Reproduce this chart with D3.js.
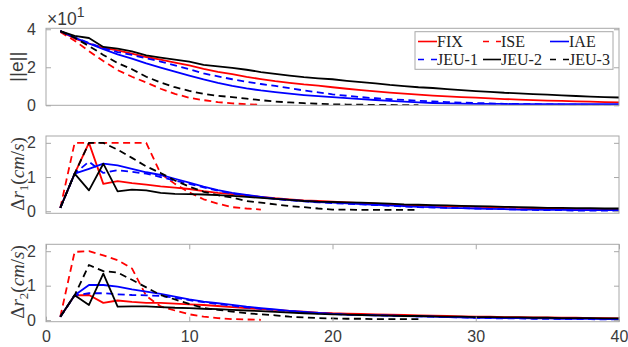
<!DOCTYPE html>
<html><head><meta charset="utf-8">
<script src="https://cdn.jsdelivr.net/npm/d3@7"></script>
<style>body{margin:0;background:#fff}svg{display:block}</style>
</head><body>
<svg id="c" width="628" height="347"></svg>
<script>
// ---------- data ----------
const seriesNames = ["FIX","ISE","IAE","JEU-1","JEU-2","JEU-3"];
const xTicks = [0,10,20,30,40];
// ||e|| (actual values, axis shown x10^1)
const FIX_e  = [39,35.1,32.5,30.2,28.9,27.2,25.4,24.0,22.5,21.0,19.2,17.6,16.4,15.0,13.8,12.7,11.8,11.0,10.4,9.5,8.7,8.0,7.3,6.7,6.1,5.6,5.1,4.7,4.3,4.0,3.6,3.3,3.0,2.7,2.5,2.3,2.1,1.9,1.7,1.5];
const ISE_e  = [38.5,34,28.5,23.3,18.5,15,12,8.7,6.0,4.0,2.7,1.7,1.0,0.6,0.3];
const IAE_e  = [39,35.6,32.5,29.5,26.8,24.6,22.0,19.8,17.7,15.6,13.6,11.8,10.2,8.9,7.8,6.9,6.1,5.4,4.8,4.3,3.8,3.3,2.8,2.3,1.9,1.5,1.2,1.0,0.9,0.8,0.7,0.7,0.6,0.6,0.6,0.6,0.6,0.6,0.6,0.6];
const JEU1_e = [39,35.8,32.8,30.0,28.0,26.5,24.7,23.0,21.0,19.0,16.8,15.2,13.7,12.3,11.2,10.2,9.0,7.8,6.8,5.8,5.0,4.3,3.7,3.2,2.8,2.4,2.0,1.7,1.4,1.2,1.0,0.8,0.7,0.6,0.5,0.4,0.3,0.25,0.2,0.1];
const JEU2_e = [39,36.5,35.4,30.7,29.8,28.4,26.3,25.1,24.0,23.0,21.3,20.5,19.7,18.7,17.5,16.5,15.6,14.8,14.2,13.7,12.9,12.2,11.5,10.7,10.1,9.5,9.1,8.5,8.0,7.5,7.1,6.6,6.3,5.9,5.6,5.2,4.9,4.6,4.3,4.1];
const JEU3_e = [39,35.5,31.2,26.5,22.2,19.0,15.0,12.0,9.5,7.6,6.0,5.0,4.3,3.5,2.7,2.0,1.5,1.1,0.8,0.5,0.4,0.3,0.2,0.15,0.1,0.1];
// Δr1 (cm/s)
const FIX_r1  = [0.1,1.1,2.0,0.8,0.88,0.82,0.78,0.73,0.69,0.65,0.59,0.54,0.5,0.46,0.42,0.38,0.35,0.32,0.3,0.28,0.26,0.24,0.22,0.2,0.18,0.17,0.16,0.15,0.14,0.13,0.12,0.11,0.1,0.09,0.08,0.07,0.06,0.05,0.05,0.04];
const ISE_r1  = [0.1,2.0,2.0,2.0,2.0,2.0,2.0,1.1,0.8,0.55,0.35,0.22,0.12,0.08,0.05];
const IAE_r1  = [0.1,1.1,1.24,1.39,1.34,1.24,1.14,1.06,0.95,0.84,0.72,0.62,0.54,0.48,0.42,0.37,0.33,0.3,0.27,0.25,0.23,0.21,0.19,0.17,0.15,0.13,0.12,0.1,0.09,0.08,0.07,0.06,0.05,0.05,0.04,0.04,0.03,0.03,0.03,0.03];
const JEU1_r1 = [0.1,1.1,1.45,1.12,1.2,1.15,1.1,1.0,0.9,0.8,0.7,0.6,0.52,0.46,0.41,0.36,0.32,0.29,0.26,0.24,0.22,0.2,0.18,0.16,0.14,0.12,0.11,0.1,0.09,0.08,0.07,0.06,0.05,0.04,0.03,0.03,0.02,0.02,0.02,0.02];
const JEU2_r1 = [0.1,1.1,0.61,1.39,0.58,0.63,0.61,0.54,0.51,0.5,0.49,0.47,0.45,0.42,0.39,0.36,0.33,0.3,0.28,0.27,0.26,0.25,0.24,0.22,0.2,0.19,0.18,0.17,0.16,0.15,0.14,0.13,0.12,0.11,0.1,0.1,0.09,0.09,0.08,0.08];
const JEU3_r1 = [0.1,1.1,2.0,2.0,1.8,1.56,1.31,1.12,0.9,0.72,0.57,0.47,0.4,0.3,0.25,0.2,0.15,0.12,0.08,0.05,0.05,0.04,0.04,0.04,0.04,0.04];
// Δr2 (cm/s)
const FIX_r2  = [0.1,0.72,0.73,0.5,0.57,0.53,0.5,0.5,0.48,0.46,0.44,0.41,0.38,0.35,0.32,0.3,0.27,0.25,0.22,0.2,0.19,0.18,0.17,0.16,0.15,0.14,0.13,0.12,0.11,0.1,0.1,0.09,0.09,0.08,0.08,0.07,0.07,0.06,0.06,0.05];
const ISE_r2  = [0.1,1.98,2.0,1.88,1.74,1.5,0.7,0.4,0.28,0.17,0.1,0.06,0.03,0.02,0.01];
const IAE_r2  = [0.1,0.72,1.02,1.02,0.97,0.89,0.83,0.76,0.68,0.6,0.54,0.49,0.44,0.39,0.35,0.31,0.27,0.24,0.21,0.18,0.16,0.15,0.14,0.13,0.12,0.11,0.1,0.09,0.08,0.07,0.07,0.06,0.06,0.05,0.05,0.04,0.04,0.04,0.03,0.03];
const JEU1_r2 = [0.1,0.72,0.78,0.78,0.75,0.73,0.72,0.7,0.65,0.58,0.52,0.47,0.42,0.37,0.33,0.29,0.26,0.23,0.2,0.18,0.16,0.15,0.14,0.13,0.12,0.11,0.1,0.09,0.08,0.07,0.06,0.05,0.05,0.04,0.04,0.03,0.03,0.03,0.02,0.02];
const JEU2_r2 = [0.1,0.72,0.44,1.35,0.39,0.4,0.4,0.38,0.36,0.35,0.33,0.32,0.3,0.28,0.26,0.24,0.22,0.2,0.18,0.17,0.16,0.15,0.14,0.13,0.12,0.12,0.11,0.1,0.1,0.09,0.09,0.08,0.08,0.07,0.07,0.06,0.06,0.06,0.05,0.05];
const JEU3_r2 = [0.1,0.72,1.6,1.42,1.38,1.17,0.95,0.73,0.6,0.47,0.35,0.3,0.25,0.2,0.17,0.14,0.1,0.08,0.06,0.05,0.04,0.04,0.03,0.03,0.03,0.03];

// ---------- styles ----------
const styles = [
  {color:"#ff0000", dash:null},
  {color:"#ff0000", dash:"7,4.5"},
  {color:"#0000ff", dash:null},
  {color:"#0000ff", dash:"7,4.5"},
  {color:"#000000", dash:null},
  {color:"#000000", dash:"7,4.5"}
];
const axisColor = "#a8a8a8", textColor = "#3a3a3a";
const sans = "'Liberation Sans',Arial,Helvetica,sans-serif";
const serif = "'Liberation Serif','Times New Roman',serif";

const svg = d3.select("#c");
const L = 46, R = 619;
const x = d3.scaleLinear().domain([0,40]).range([L,R]);

const panels = [
  {top:28.3, bottom:105.3, domain:[0,40.5], ticks:[0,20,40], fmt:d=>d/10, data:[FIX_e,ISE_e,IAE_e,JEU1_e,JEU2_e,JEU3_e], xt:false},
  {top:136, bottom:213.3, domain:[-0.06,2.2], ticks:[0,1,2], fmt:d=>d, data:[FIX_r1,ISE_r1,IAE_r1,JEU1_r1,JEU2_r1,JEU3_r1], xt:false},
  {top:244.3, bottom:321.7, domain:[-0.045,2.2], ticks:[0,1,2], fmt:d=>d, data:[FIX_r2,ISE_r2,IAE_r2,JEU1_r2,JEU2_r2,JEU3_r2], xt:true}
];

panels.forEach((p,pi)=>{
  const y = d3.scaleLinear().domain(p.domain).range([p.bottom,p.top]);
  const g = svg.append("g");
  const clipId = "clip"+pi;
  svg.append("clipPath").attr("id",clipId).append("rect")
    .attr("x",L).attr("y",p.top).attr("width",R-L).attr("height",p.bottom-p.top);
  const line = d3.line().x((d,i)=>x(i+1)).y(d=>y(d));
  const lg = g.append("g").attr("clip-path",`url(#${clipId})`);
  p.data.forEach((arr,si)=>{
    lg.append("path").datum(arr).attr("d",line)
      .attr("fill","none").attr("stroke",styles[si].color)
      .attr("stroke-width",1.8)
      .attr("stroke-dasharray",styles[si].dash)
      .attr("stroke-linejoin","round");
  });
  g.append("rect").attr("x",L).attr("y",p.top).attr("width",R-L).attr("height",p.bottom-p.top)
    .attr("fill","none").attr("stroke",axisColor).attr("stroke-width",1);
  const ya = d3.axisLeft(y).tickValues(p.ticks).tickSize(-5).tickPadding(10).tickFormat(p.fmt);
  const yg = g.append("g").attr("transform",`translate(${L},0)`).call(ya);
  yg.select(".domain").remove();
  yg.selectAll("line").attr("stroke",axisColor);
  yg.selectAll("text").attr("fill",textColor).style("font-family",sans).style("font-size","16px");
  const yr = d3.axisRight(y).tickValues(p.ticks).tickSize(-5).tickFormat("");
  const yrg = g.append("g").attr("transform",`translate(${R},0)`).call(yr);
  yrg.select(".domain").remove();
  yrg.selectAll("line").attr("stroke",axisColor);
  if(p.xt){
    const xa = d3.axisBottom(x).tickValues(xTicks).tickSize(-5).tickPadding(9);
    const xg = g.append("g").attr("transform",`translate(0,${p.bottom})`).call(xa);
    xg.select(".domain").remove();
    xg.selectAll("line").attr("stroke",axisColor);
    xg.selectAll("text").attr("fill",textColor).style("font-family",sans).style("font-size","16px");
    const xta = d3.axisTop(x).tickValues(xTicks).tickSize(-5).tickFormat("");
    const xtg = g.append("g").attr("transform",`translate(0,${p.top})`).call(xta);
    xtg.select(".domain").remove();
    xtg.selectAll("line").attr("stroke",axisColor);
  }
});

// exponent label
const ex = svg.append("text").attr("x",47).attr("y",25).attr("fill",textColor)
  .style("font-family",sans).style("font-size","17.5px");
ex.append("tspan").text("×10");
ex.append("tspan").attr("dy",-8).style("font-size","14px").text("1");

// y labels
svg.append("text").attr("transform","translate(23,66.8) rotate(-90)")
  .attr("text-anchor","middle").attr("fill",textColor)
  .style("font-family",sans).style("font-size","19px").text("||e||");

function drLabel(cy, sub){
  const t = svg.append("text").attr("transform",`translate(24,${cy}) rotate(-90)`)
    .attr("text-anchor","middle").attr("fill",textColor)
    .style("font-family",serif).style("font-size","19px");
  t.append("tspan").text("Δ");
  t.append("tspan").style("font-style","italic").text("r");
  t.append("tspan").attr("dy",3.5).style("font-size","13px").text(sub);
  t.append("tspan").attr("dy",-3.5).text("(");
  t.append("tspan").style("font-style","italic").text("cm");
  t.append("tspan").text("/");
  t.append("tspan").style("font-style","italic").text("s");
  t.append("tspan").text(")");
}
drLabel(174, "1");
drLabel(282, "2");

// legend
const lgX = 415, lgY = 31.7, lgW = 198, lgH = 37.6;
const leg = svg.append("g");
leg.append("rect").attr("x",lgX).attr("y",lgY).attr("width",lgW).attr("height",lgH)
  .attr("fill","#fff").attr("stroke",axisColor).attr("stroke-width",1);
const cols = [[418,437],[483,501],[550,569]];
const rows = [41.5, 59.5];
seriesNames.forEach((n,i)=>{
  const r = Math.floor(i/3), c = i%3;
  const [x0,x1] = cols[c];
  const yy = rows[r];
  leg.append("line").attr("x1",x0).attr("x2",x1).attr("y1",yy).attr("y2",yy)
    .attr("stroke",styles[i].color).attr("stroke-width",1.6)
    .attr("stroke-dasharray",styles[i].dash ? "6,7" : null);
  leg.append("text").attr("x",x1).attr("y",yy+5.5).attr("fill","#222")
    .style("font-family",serif).style("font-size","16px")
    .text(n);
});
</script>
</body></html>
